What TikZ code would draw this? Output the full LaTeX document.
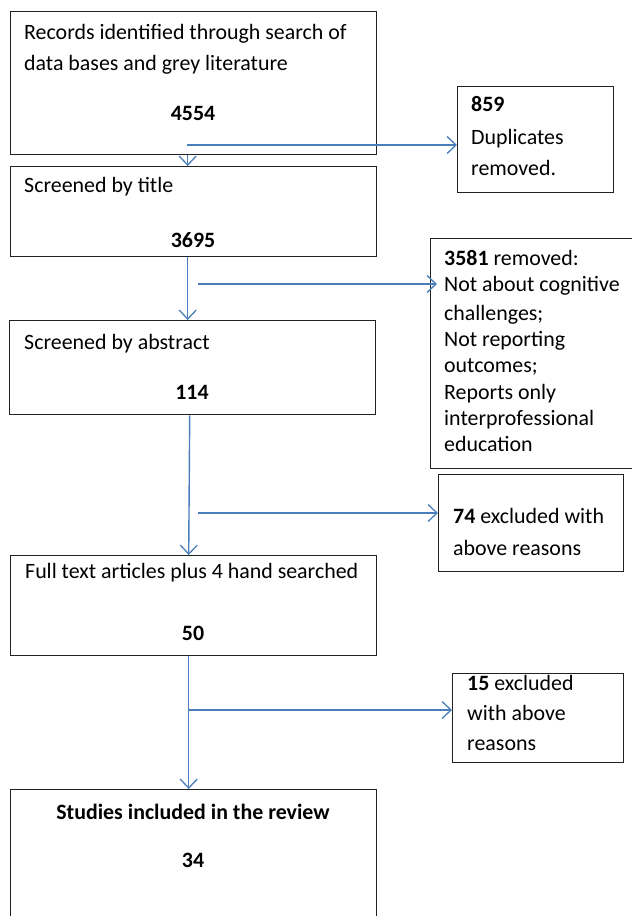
\documentclass[tikz,border=0pt]{standalone}
\usepackage{fontspec}
\setmainfont{Carlito}
\usetikzlibrary{arrows.meta}
\definecolor{arrowblue}{HTML}{4A7EBB}
\definecolor{boxline}{HTML}{222222}
\tikzset{
  box/.style={draw=boxline, line width=1.4pt, rectangle, inner sep=0pt, anchor=north west},
  txt/.style={inner sep=0pt, anchor=mid west, yshift=-5pt, font=\fontsize{21.9}{26}\selectfont},
  ctxt/.style={inner sep=0pt, anchor=mid, yshift=-5pt, font=\fontsize{21.9}{26}\selectfont\bfseries},
  arr/.style={draw=arrowblue, line width=1.4pt, -{Straight Barb[length=9pt, width=17pt, line width=1.3pt]}},
}
\begin{document}
\begin{tikzpicture}[x=1pt,y=-1pt]
\useasboundingbox (0,0) rectangle (632,916);
% main boxes
\node[box, minimum width=366pt, minimum height=143pt] (b1) at (10,11) {};
\node[box, minimum width=366pt, minimum height=90pt] (b2) at (10,166) {};
\node[box, minimum width=366pt, minimum height=94pt] (b3) at (9,320) {};
\node[box, minimum width=366pt, minimum height=100pt] (b4) at (10,555) {};
\node[box, minimum width=366pt, minimum height=140pt] (b5) at (10,789) {};
% side boxes
\node[box, minimum width=156pt, minimum height=106pt] (d1) at (457,86) {};
\node[box, minimum width=215pt, minimum height=230pt] (d2) at (430,238) {};
\node[box, minimum width=185pt, minimum height=97pt] (d3) at (438,474) {};
\node[box, minimum width=171pt, minimum height=89pt] (d4) at (452,673) {};
% texts main
\node[txt] (t1a) at (24,32) {Records identified through search of};
\node[txt] (t1b) at (24,63) {data bases and grey literature};
\node[ctxt] (t1c) at (193,113) {4554};
\node[txt] (t2a) at (24,185) {Screened by title};
\node[ctxt] (t2c) at (193,240) {3695};
\node[txt] (t3a) at (24,342) {Screened by abstract};
\node[ctxt] (t3c) at (192,392) {114};
\node[txt] (t4a) at (25,571) {Full text articles plus 4 hand searched};
\node[ctxt] (t4c) at (193,633) {50};
\node[ctxt] (t5a) at (193,812) {Studies included in the review};
\node[ctxt] (t5c) at (193,860) {34};
% texts side
\node[txt] (s1a) at (471,104) {\textbf{859}};
\node[txt] (s1b) at (471,137) {Duplicates};
\node[txt] (s1c) at (471,168) {removed.};
\node[txt] (s2a) at (444,258) {\textbf{3581} removed:};
\node[txt] (s2b) at (444,284) {Not about cognitive};
\node[txt] (s2c) at (444,313) {challenges;};
\node[txt] (s2d) at (444,339) {Not reporting};
\node[txt] (s2e) at (444,365) {outcomes;};
\node[txt] (s2f) at (444,392) {Reports only};
\node[txt] (s2g) at (444,418) {interprofessional};
\node[txt] (s2h) at (444,444) {education};
\node[txt] (s3a) at (453,516) {\textbf{74} excluded with};
\node[txt] (s3b) at (453,548) {above reasons};
\node[txt] (s4a) at (467,683) {\textbf{15} excluded};
\node[txt] (s4b) at (467,713) {with above};
\node[txt] (s4c) at (467,743) {reasons};
% vertical arrows
\draw[arr] ([xshift=-6pt]b1.south) -- ([xshift=-6pt]b2.north);
\draw[arr] ([xshift=-6pt]b2.south) -- ([xshift=-5pt]b3.north);
\draw[arr] ([xshift=-3pt]b3.south) -- ([xshift=-5pt]b4.north);
\draw[arr] ([xshift=-5pt]b4.south) -- ([xshift=-5pt]b5.north);
% branch arrows
\coordinate (j1) at (187,145);
\coordinate (j2) at (198,284);
\coordinate (j3) at (198,513);
\coordinate (j4) at (188,710);
\draw[arr] (j1) -- (j1 -| d1.west);
\draw[arr] (j2) -- ([xshift=7pt]j2 -| d2.west);
\draw[arr] (j3) -- (j3 -| d3.west);
\draw[arr] (j4) -- (j4 -| d4.west);
\end{tikzpicture}
\end{document}
